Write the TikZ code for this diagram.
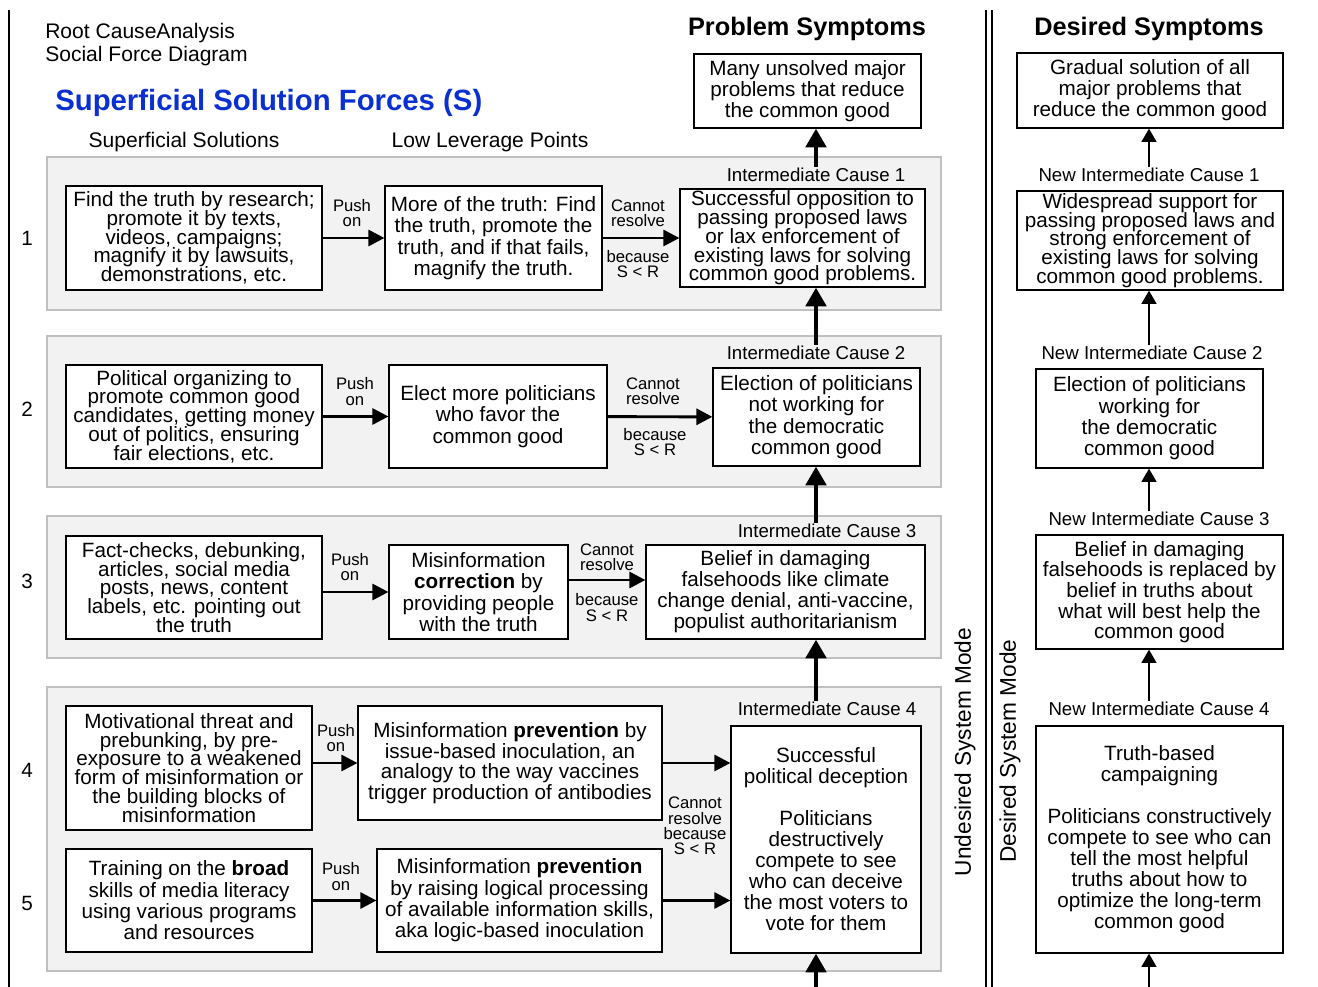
\documentclass[tikz,border=0pt]{standalone}
\usepackage{fontspec}
\setmainfont{Liberation Sans}
\usetikzlibrary{arrows.meta}

\definecolor{panelgray}{RGB}{242,242,242}
\definecolor{panelline}{RGB}{192,192,192}
\definecolor{titleblue}{RGB}{10,48,210}

\newcommand\tightlines{\setlength{\lineskiplimit}{-20pt}}

\tikzset{
  solbox/.style={draw, line width=0.9pt, fill=white, align=center, inner sep=1pt, font=\fontsize{15.5}{16}\selectfont},
  tightbox/.style={solbox, font={\fontsize{15.5}{14.1}\selectfont\tightlines}},
  forcelabel/.style={align=center, inner sep=0pt, font={\fontsize{12.5}{11.6}\selectfont\tightlines}},
  cause/.style={inner sep=1pt, font=\fontsize{14}{16}\selectfont},
  panel/.style={draw=panelline, fill=panelgray, line width=1.2pt},
  push/.style={-{Triangle[length=12pt,width=12pt]}, line width=2.2pt},
  rise/.style={-{Triangle[length=14pt,width=15pt]}, line width=3.6pt},
  gain/.style={-{Triangle[length=10pt,width=11pt]}, line width=2pt},
}

\begin{document}
\begin{tikzpicture}[x=0.75pt,y=0.75pt,yscale=-1,xscale=1]
\useasboundingbox (0,0) rectangle (1318,987);

%Shape: frame lines
\draw [line width=1.5pt] (9,10) -- (9,987);
\draw [line width=1.5pt] (986,10) -- (986,987);
\draw [line width=1.5pt] (992,10) -- (992,987);

%Shape: row panels
\draw [panel] (47,157) rectangle (941,310);
\draw [panel] (47,336) rectangle (941,487);
\draw [panel] (47,516) rectangle (941,658);
\draw [panel] (47,687) rectangle (941,971);

% Text Node: headings
\draw (45,44.5) node [anchor=west, align=left, inner sep=0pt, font=\fontsize{15.8}{17.2}\selectfont] (title) {Root CauseAnalysis\\Social Force Diagram};
\draw (55,103) node [anchor=west, inner sep=0pt, text=titleblue, font=\fontsize{22}{24}\selectfont\bfseries] (forces) {Superficial Solution Forces (S)};
\draw (184,142) node [font=\fontsize{15.8}{17}\selectfont] (colsol) {Superficial Solutions};
\draw (490,142) node [font=\fontsize{15.8}{17}\selectfont] (collev) {Low Leverage Points};
\draw (807,29) node [font=\fontsize{19}{20}\selectfont\bfseries] (probhead) {Problem Symptoms};
\draw (1149,29) node [font=\fontsize{19}{20}\selectfont\bfseries] (deshead) {Desired Symptoms};

% Text Node: row numbers
\draw (27,238) node [font=\fontsize{15.5}{16}\selectfont] (row1) {1};
\draw (27,409) node [font=\fontsize{15.5}{16}\selectfont] (row2) {2};
\draw (27,581) node [font=\fontsize{15.5}{16}\selectfont] (row3) {3};
\draw (27,770) node [font=\fontsize{15.5}{16}\selectfont] (row4) {4};
\draw (27,903) node [font=\fontsize{15.5}{16}\selectfont] (row5) {5};

% Text Node: mode labels
\draw (965,752) node [rotate=90, font=\fontsize{17}{18}\selectfont] (undesired) {Undesired System Mode};
\draw (1010,751) node [rotate=90, font=\fontsize{17}{18}\selectfont] (desired) {Desired System Mode};

%Shape: problem symptoms
\draw (807.5,91) node [solbox, minimum width=170.25pt, minimum height=55.5pt] (ps) {Many unsolved major\\problems that reduce\\the common good};

%Shape: row 1
\draw (194,238) node [tightbox, minimum width=192pt, minimum height=78pt] (a1) {Find the truth by research;\\promote it by texts,\\videos, campaigns;\\magnify it by lawsuits,\\demonstrations, etc.};
\draw (493.5,238) node [solbox, minimum width=162.75pt, minimum height=78pt] (b1) {More of the truth: Find\\the truth, promote the\\truth, and if that fails,\\magnify the truth.};
\draw (802.5,238) node [tightbox, minimum width=183.75pt, minimum height=73.5pt] (c1) {Successful opposition to\\passing proposed laws\\or lax enforcement of\\existing laws for solving\\common good problems.};

%Shape: row 2
\draw (194,416.5) node [tightbox, minimum width=192pt, minimum height=77.25pt] (a2) {Political organizing to\\promote common good\\candidates, getting money\\out of politics, ensuring\\fair elections, etc.};
\draw (498,416.5) node [solbox, minimum width=163.5pt, minimum height=77.25pt] (b2) {Elect more politicians\\who favor the\\common good};
\draw (816.5,417) node [solbox, minimum width=155.25pt, minimum height=73.5pt] (c2) {Election of politicians\\not working for\\the democratic\\common good};

%Shape: row 3
\draw (194,587.5) node [tightbox, minimum width=192pt, minimum height=77.25pt] (a3) {Fact-checks, debunking,\\articles, social media\\posts, news, content\\labels, etc. pointing out\\the truth};
\draw (478.5,592) node [solbox, minimum width=134.25pt, minimum height=70.5pt] (b3) {Misinformation\\\textbf{correction} by\\providing people\\with the truth};
\draw (785.5,592) node [solbox, font=\fontsize{15.5}{15.75}\selectfont, minimum width=209.25pt, minimum height=70.5pt] (c3) {Belief in damaging\\falsehoods like climate\\change denial, anti-vaccine,\\populist authoritarianism};

%Shape: rows 4 and 5
\draw (189,768) node [tightbox, minimum width=184.5pt, minimum height=93pt] (a4) {Motivational threat and\\prebunking, by pre-\\exposure to a weakened\\form of misinformation or\\the building blocks of\\misinformation};
\draw (510,763) node [solbox, font=\fontsize{15.5}{15.5}\selectfont, minimum width=228pt, minimum height=85.5pt] (b4) {Misinformation \textbf{prevention} by\\issue-based inoculation, an\\analogy to the way vaccines\\trigger production of antibodies};
\draw (826,839.5) node [solbox, font=\fontsize{15.5}{15.75}\selectfont, minimum width=142.5pt, minimum height=170.25pt] (c4) {Successful\\political deception\\[15.75pt]Politicians\\destructively\\compete to see\\who can deceive\\the most voters to\\vote for them};
\draw (189,900.5) node [solbox, minimum width=184.5pt, minimum height=77.25pt] (a5) {Training on the \textbf{broad}\\skills of media literacy\\using various programs\\and resources};
\draw (519.5,900.5) node [solbox, minimum width=213.75pt, minimum height=77.25pt] (b5) {Misinformation \textbf{prevention}\\by raising logical processing\\of available information skills,\\aka logic-based inoculation};

%Shape: desired symptoms
\draw (1150,90.5) node [solbox, font=\fontsize{15.5}{15.75}\selectfont, minimum width=199.5pt, minimum height=56.25pt] (d0) {Gradual solution of all\\major problems that\\reduce the common good};
\draw (1150,240.5) node [tightbox, minimum width=199.5pt, minimum height=74.25pt] (d1) {Widespread support for\\passing proposed laws and\\strong enforcement of\\existing laws for solving\\common good problems.};
\draw (1149.5,418.5) node [solbox, minimum width=170.25pt, minimum height=74.25pt] (d2) {Election of politicians\\working for\\the democratic\\common good};
\draw (1159.5,592) node [solbox, font=\fontsize{15.5}{15.5}\selectfont, minimum width=185.25pt, minimum height=85.5pt] (d3) {Belief in damaging\\falsehoods is replaced by\\belief in truths about\\what will best help the\\common good};
\draw (1159.5,839.5) node [solbox, font=\fontsize{15.5}{15.75}\selectfont, minimum width=185.25pt, minimum height=170.25pt] (d4) {Truth-based\\campaigning\\[15.75pt]Politicians constructively\\compete to see who can\\tell the most helpful\\truths about how to\\optimize the long-term\\common good};

% Text Node: force labels
\draw (352,213) node [forcelabel] (push1) {Push\\on};
\draw (638,213) node [forcelabel] (cannot1) {Cannot\\resolve};
\draw (638,264) node [forcelabel] (because1) {because\\S < R};
\draw (355,391.5) node [forcelabel] (push2) {Push\\on};
\draw (653,391.5) node [forcelabel] (cannot2) {Cannot\\resolve};
\draw (655,442) node [forcelabel] (because2) {because\\S < R};
\draw (350,567) node [forcelabel] (push3) {Push\\on};
\draw (607,557) node [forcelabel] (cannot3) {Cannot\\resolve};
\draw (607,607.5) node [forcelabel] (because3) {because\\S < R};
\draw (336,738) node [forcelabel] (push4) {Push\\on};
\draw (341,876.5) node [forcelabel] (push5) {Push\\on};
\draw (695,826) node [forcelabel] (cannot45) {Cannot\\resolve\\because\\S < R};

% Text Node: cause labels
\draw (816,175) node [cause] (ic1) {Intermediate Cause 1};
\draw (816,353) node [cause] (ic2) {Intermediate Cause 2};
\draw (827,531) node [cause] (ic3) {Intermediate Cause 3};
\draw (827,709) node [cause] (ic4) {Intermediate Cause 4};
\draw (1149,175) node [cause] (nic1) {New Intermediate Cause 1};
\draw (1152,353) node [cause] (nic2) {New Intermediate Cause 2};
\draw (1159,519) node [cause] (nic3) {New Intermediate Cause 3};
\draw (1159,709) node [cause] (nic4) {New Intermediate Cause 4};

%Arrows: push on / cannot resolve
\draw [push] (a1) -- (b1);
\draw [push] (b1) -- (c1);
\draw [push] (a2) -- (b2);
\draw [push] (b2) -- (c2);
\draw [push] (a3.east |- b3.west) -- (b3.west);
\draw [push] ([yshift=-9pt]b3.east) -- ([yshift=-9pt]b3.east -| c3.west);
\draw [push] (a4.east |- b4.west) -- (b4.west);
\draw [push] (b4.east) -- (b4.east -| c4.west);
\draw [push] (a5) -- (b5);
\draw [push] (b5.east) -- (b5.east -| c4.west);

%Arrows: cause chains
\coordinate (spine) at (816,0);
\coordinate (rspine) at (1149,0);
\coordinate (bottomedge) at (0,987);
\draw [rise] (spine |- ic1.north) -- (spine |- ps.south);
\draw [rise] (spine |- ic2.north) -- (spine |- c1.south);
\draw [rise] (spine |- ic3.north) -- (spine |- c2.south);
\draw [rise] (spine |- ic4.north) -- (spine |- c3.south);
\draw [rise] (spine |- bottomedge) -- (spine |- c4.south);
\draw [gain] (rspine |- nic1.north) -- (rspine |- d0.south);
\draw [gain] (rspine |- nic2.north) -- (rspine |- d1.south);
\draw [gain] (rspine |- nic3.north) -- (rspine |- d2.south);
\draw [gain] (rspine |- nic4.north) -- (rspine |- d3.south);
\draw [gain] (rspine |- bottomedge) -- (rspine |- d4.south);

\end{tikzpicture}
\end{document}
